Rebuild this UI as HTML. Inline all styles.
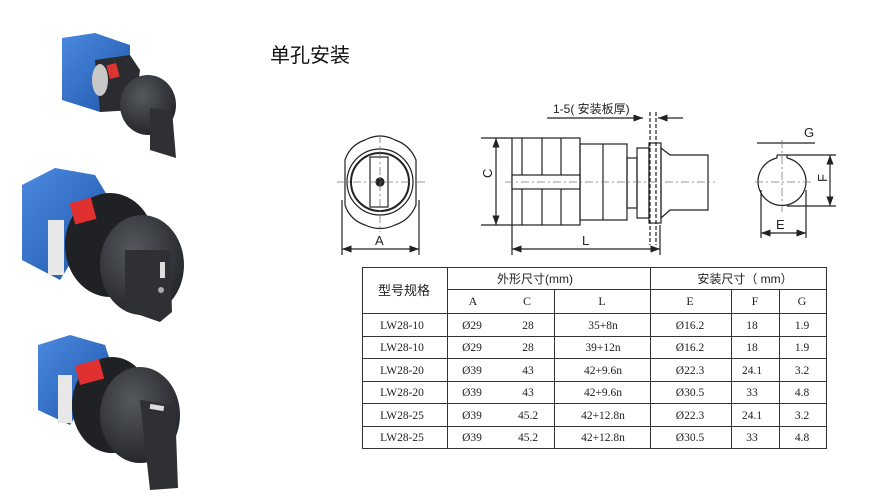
<!DOCTYPE html>
<html><head><meta charset="utf-8"><style>
body{margin:0;background:#fff;width:889px;height:496px;overflow:hidden;font-family:"Liberation Serif","Noto Serif CJK SC",serif}
svg{position:absolute;left:0;top:0}
</style></head><body>
<svg width="889" height="496" viewBox="0 0 889 496">
<defs>
<marker id="ar" markerWidth="8" markerHeight="6" refX="8" refY="3" orient="auto-start-reverse"><path d="M0,0 L8,3 L0,6z" fill="#222"/></marker>
<radialGradient id="kn" cx="0.4" cy="0.35" r="0.7"><stop offset="0" stop-color="#55585d"/><stop offset="1" stop-color="#222428"/></radialGradient>
<linearGradient id="bl" x1="0" y1="0" x2="1" y2="1"><stop offset="0" stop-color="#4a8ae0"/><stop offset="1" stop-color="#1f55a8"/></linearGradient>
</defs>
<!-- photos -->
<g>
 <path d="M62,38 L95,33 L130,45 L130,105 L100,112 L62,100Z" fill="url(#bl)"/>
 <path d="M95,60 L130,55 L140,70 L135,110 L100,112Z" fill="#2a2c30"/>
 <ellipse cx="100" cy="80" rx="8" ry="16" fill="#c8c8c8"/>
 <rect x="108" y="64" width="10" height="14" fill="#d33" transform="rotate(-15 113 71)"/>
 <ellipse cx="148" cy="105" rx="28" ry="30" fill="url(#kn)"/>
 <path d="M150,108 L172,110 L176,158 L150,150Z" fill="#2e3034"/>
 <path d="M22,185 L55,168 L95,175 L110,200 L60,280 L22,260Z" fill="url(#bl)"/>
 <rect x="48" y="220" width="16" height="55" fill="#e8e8e8"/>
 <ellipse cx="110" cy="245" rx="45" ry="52" fill="#1f2124"/>
 <rect x="72" y="200" width="22" height="22" fill="#e03030" transform="rotate(-15 83 211)"/>
 <ellipse cx="142" cy="265" rx="42" ry="50" fill="url(#kn)"/>
 <path d="M125,250 L170,250 L172,312 L160,322 L125,310Z" fill="#2e3034"/>
 <rect x="160" y="262" width="5" height="16" fill="#ddd"/>
 <circle cx="161" cy="290" r="3" fill="#aaa"/>
 <path d="M38,345 L70,335 L105,345 L110,360 L70,425 L38,410Z" fill="url(#bl)"/>
 <rect x="58" y="375" width="14" height="48" fill="#e8e8e8"/>
 <ellipse cx="112" cy="405" rx="40" ry="48" fill="#1f2124"/>
 <rect x="77" y="362" width="25" height="20" fill="#e03030" transform="rotate(-15 90 372)"/>
 <ellipse cx="140" cy="415" rx="40" ry="48" fill="url(#kn)"/>
 <path d="M140,400 L175,405 L178,488 L150,490Z" fill="#2e3034"/>
 <rect x="150" y="405" width="14" height="5" fill="#ddd" transform="rotate(10 157 407)"/>
</g>
<text x="270" y="62" font-family="Liberation Sans,Noto Sans CJK SC,sans-serif" font-size="20" fill="#111">单孔安装</text>
<!-- drawings -->
<g stroke="#222" fill="none" stroke-width="1.2">
 <path d="M345,160 Q350,145 365,140 Q380,132 395,140 Q410,145 416,160 L416,205 Q410,220 395,225 Q380,232 365,225 Q350,220 345,205Z"/>
 <circle cx="380" cy="182" r="33"/><circle cx="380" cy="182" r="29" stroke-width="2"/>
 <rect x="370" y="157" width="18" height="50"/>
 <circle cx="380" cy="182" r="4" fill="#222"/>
 <line x1="342" y1="200" x2="342" y2="255"/><line x1="419" y1="200" x2="419" y2="255"/>
 <line x1="342" y1="249" x2="419" y2="249" marker-end="url(#ar)" marker-start="url(#ar)"/>
 <rect x="512" y="138" width="68" height="87"/>
 <line x1="522" y1="138" x2="522" y2="225"/><line x1="542" y1="138" x2="542" y2="225"/><line x1="561" y1="138" x2="561" y2="225"/>
 <rect x="512" y="175" width="68" height="14" fill="#fff"/>
 <rect x="580" y="144" width="47" height="76"/><line x1="603" y1="144" x2="603" y2="220"/>
 <rect x="627" y="158" width="10" height="50"/>
 <rect x="637" y="148" width="12" height="70"/>
 <rect x="649" y="143" width="12" height="80"/>
 <path d="M661,148 L670,155 L708,155 L708,210 L670,210 L661,218Z"/>
 <line x1="481" y1="138" x2="512" y2="138"/><line x1="481" y1="225" x2="512" y2="225"/>
 <line x1="496" y1="138" x2="496" y2="225" marker-end="url(#ar)" marker-start="url(#ar)"/>
 <line x1="512" y1="225" x2="512" y2="255"/><line x1="660" y1="225" x2="660" y2="255"/>
 <line x1="512" y1="249" x2="660" y2="249" marker-end="url(#ar)" marker-start="url(#ar)"/>
 <line x1="547" y1="118" x2="643" y2="118" marker-end="url(#ar)"/>
 <line x1="683" y1="118" x2="658" y2="118" marker-end="url(#ar)"/>
 <line x1="650" y1="112" x2="650" y2="245" stroke-dasharray="4,2"/><line x1="656" y1="112" x2="656" y2="245" stroke-dasharray="4,2"/>
 <path d="M787,158 A24,24 0 1 1 777,158" />
 <line x1="777" y1="158" x2="777" y2="155"/><line x1="787" y1="158" x2="787" y2="155"/><line x1="777" y1="155" x2="787" y2="155"/>
 <line x1="757" y1="143" x2="815" y2="143"/>
 <line x1="787" y1="155" x2="836" y2="155"/><line x1="787" y1="206" x2="836" y2="206"/>
 <line x1="830" y1="155" x2="830" y2="206" marker-end="url(#ar)" marker-start="url(#ar)"/>
 <line x1="761" y1="190" x2="761" y2="238"/><line x1="806" y1="190" x2="806" y2="238"/>
 <line x1="761" y1="233" x2="806" y2="233" marker-end="url(#ar)" marker-start="url(#ar)"/>
</g>
<g stroke="#777" stroke-dasharray="8,3,2,3" stroke-width="0.8">
 <line x1="337" y1="182" x2="425" y2="182"/><line x1="380" y1="135" x2="380" y2="232"/>
 <line x1="505" y1="182" x2="715" y2="182"/>
 <line x1="755" y1="182" x2="812" y2="182"/><line x1="782" y1="140" x2="782" y2="212"/>
</g>
<g font-family="Liberation Sans,Noto Sans CJK SC,sans-serif" font-size="13" fill="#222">
 <text x="375" y="245">A</text><text x="582" y="245">L</text>
 <text x="492" y="186" transform="rotate(-90 488 182)">C</text>
 <text x="553" y="113" font-size="12">1-5( 安装板厚)</text>
 <text x="804" y="137">G</text><text x="776" y="229">E</text>
 <text x="823" y="186" transform="rotate(-90 823 182)">F</text>
</g>
<!-- table -->
<g stroke="#333" stroke-width="1" fill="none">
 <rect x="362.5" y="267.5" width="464" height="181"/>
 <line x1="447.5" y1="267" x2="447.5" y2="448"/>
 <line x1="650.5" y1="267" x2="650.5" y2="448"/>
 <line x1="554.5" y1="289" x2="554.5" y2="448"/>
 <line x1="731.5" y1="289" x2="731.5" y2="448"/>
 <line x1="779.5" y1="289" x2="779.5" y2="448"/>
 <line x1="447" y1="289.5" x2="826" y2="289.5"/>
 <line x1="362" y1="313.5" x2="826" y2="313.5"/>
 <line x1="362" y1="336.5" x2="826" y2="336.5"/>
 <line x1="362" y1="358.5" x2="826" y2="358.5"/>
 <line x1="362" y1="381.5" x2="826" y2="381.5"/>
 <line x1="362" y1="403.5" x2="826" y2="403.5"/>
 <line x1="362" y1="426.5" x2="826" y2="426.5"/>
</g>
<g font-size="12" fill="#222" text-anchor="middle">
 <text x="404" y="295" font-family="Liberation Sans,Noto Sans CJK SC,sans-serif" font-size="13">型号规格</text>
 <text x="535" y="283" font-family="Liberation Sans,Noto Sans CJK SC,sans-serif">外形尺寸(mm)</text>
 <text x="745" y="283" font-family="Liberation Sans,Noto Sans CJK SC,sans-serif">安装尺寸（ mm）</text>
 <text x="473" y="305">A</text><text x="527" y="305">C</text><text x="602" y="305">L</text>
 <text x="690" y="305">E</text><text x="755" y="305">F</text><text x="802" y="305">G</text>
 <g font-size="11.5">
 <text x="402" y="329">LW28-10</text><text x="472" y="329">Ø29</text><text x="528" y="329">28</text><text x="603" y="329">35+8n</text><text x="690" y="329">Ø16.2</text><text x="752" y="329">18</text><text x="802" y="329">1.9</text>
 <text x="402" y="351">LW28-10</text><text x="472" y="351">Ø29</text><text x="528" y="351">28</text><text x="603" y="351">39+12n</text><text x="690" y="351">Ø16.2</text><text x="752" y="351">18</text><text x="802" y="351">1.9</text>
 <text x="402" y="374">LW28-20</text><text x="472" y="374">Ø39</text><text x="528" y="374">43</text><text x="603" y="374">42+9.6n</text><text x="690" y="374">Ø22.3</text><text x="752" y="374">24.1</text><text x="802" y="374">3.2</text>
 <text x="402" y="396">LW28-20</text><text x="472" y="396">Ø39</text><text x="528" y="396">43</text><text x="603" y="396">42+9.6n</text><text x="690" y="396">Ø30.5</text><text x="752" y="396">33</text><text x="802" y="396">4.8</text>
 <text x="402" y="419">LW28-25</text><text x="472" y="419">Ø39</text><text x="528" y="419">45.2</text><text x="603" y="419">42+12.8n</text><text x="690" y="419">Ø22.3</text><text x="752" y="419">24.1</text><text x="802" y="419">3.2</text>
 <text x="402" y="441">LW28-25</text><text x="472" y="441">Ø39</text><text x="528" y="441">45.2</text><text x="603" y="441">42+12.8n</text><text x="690" y="441">Ø30.5</text><text x="752" y="441">33</text><text x="802" y="441">4.8</text>
 </g>
</g>
</svg>
</body></html>
